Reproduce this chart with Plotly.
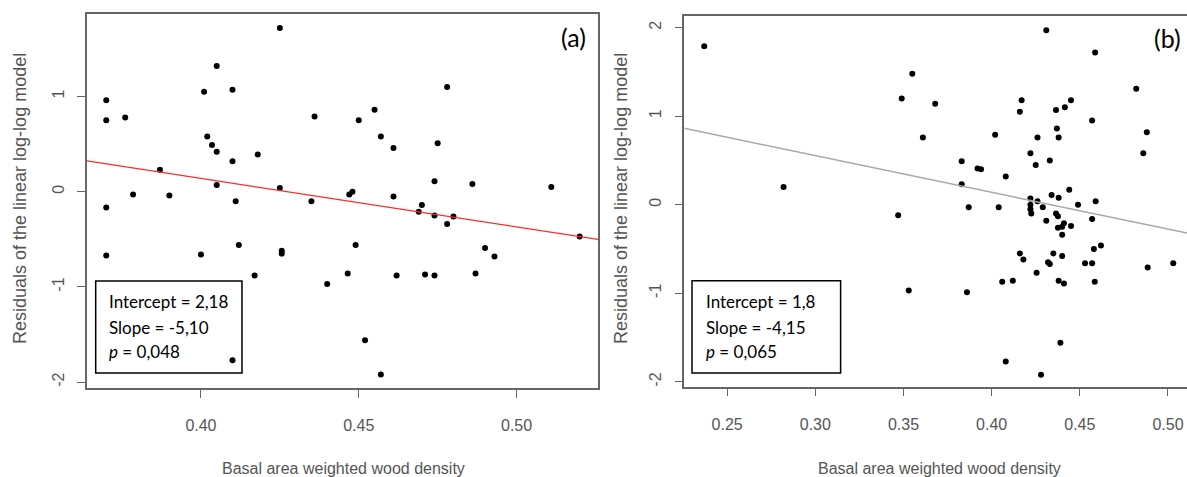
import plotly.graph_objects as go

W, H = 1187, 477

# ── panel (a) residuals ───────────────────────────────────────────────────────
xa = [0.370, 0.370, 0.376, 0.387, 0.3785, 0.390, 0.370, 0.401, 0.405, 0.410,
      0.402, 0.4035, 0.405, 0.410, 0.405, 0.411, 0.418, 0.425, 0.425, 0.436,
      0.435, 0.447, 0.448, 0.450, 0.455, 0.457, 0.461, 0.461, 0.469, 0.470,
      0.474, 0.478, 0.480, 0.475, 0.474, 0.478, 0.486, 0.511, 0.520, 0.370,
      0.400, 0.412, 0.417, 0.4256, 0.4256, 0.410, 0.440, 0.4465, 0.449, 0.452,
      0.457, 0.462, 0.471, 0.474, 0.487, 0.490, 0.493]
ya = [0.96, 0.75, 0.78, 0.23, -0.03, -0.04, -0.165, 1.05, 1.32, 1.07,
      0.58, 0.49, 0.42, 0.32, 0.07, -0.10, 0.39, 1.72, 0.04, 0.79,
      -0.10, -0.03, 0.00, 0.75, 0.86, 0.58, 0.46, -0.05, -0.21, -0.14,
      -0.25, -0.34, -0.26, 0.51, 0.11, 1.10, 0.08, 0.05, -0.47, -0.67,
      -0.66, -0.56, -0.88, -0.62, -0.65, -1.77, -0.97, -0.86, -0.56, -1.56,
      -1.92, -0.88, -0.87, -0.88, -0.86, -0.59, -0.68]
intercept_a, slope_a = 2.18, -5.10
stats_a = ["Intercept = 2,18", "Slope = -5,10", "<i>p</i> = 0,048"]

# ── panel (b) residuals ───────────────────────────────────────────────────────
xb = [0.237, 0.282, 0.347, 0.349, 0.355, 0.361, 0.368, 0.383, 0.383, 0.387,
      0.392, 0.394, 0.402, 0.404, 0.408, 0.416, 0.417, 0.422, 0.425, 0.426,
      0.422, 0.422, 0.422, 0.4225, 0.426, 0.429, 0.431, 0.431, 0.433, 0.434,
      0.4365, 0.437, 0.438, 0.438, 0.4365, 0.4376, 0.4415, 0.445, 0.444, 0.4376,
      0.440, 0.441, 0.445, 0.440, 0.449, 0.457, 0.4587, 0.459, 0.457, 0.482,
      0.488, 0.486, 0.416, 0.418, 0.435, 0.440, 0.432, 0.433, 0.453, 0.457,
      0.458, 0.462, 0.4255, 0.406, 0.412, 0.438, 0.441, 0.4585, 0.4885, 0.503,
      0.353, 0.386, 0.408, 0.428, 0.439]
yb = [1.79, 0.20, -0.12, 1.20, 1.48, 0.76, 1.14, 0.49, 0.23, -0.03,
      0.41, 0.40, 0.79, -0.03, 0.32, 1.05, 1.18, 0.58, 0.45, 0.76,
      0.07, 0.00, -0.05, -0.10, 0.04, -0.03, -0.18, 1.97, 0.50, 0.11,
      1.07, 0.86, 0.76, 0.08, -0.10, -0.13, 1.10, 1.18, 0.17, -0.26,
      -0.25, -0.21, -0.24, -0.34, 0.00, 0.95, 1.72, 0.04, -0.16, 1.31,
      0.82, 0.58, -0.55, -0.62, -0.55, -0.58, -0.65, -0.67, -0.66, -0.66,
      -0.50, -0.46, -0.77, -0.87, -0.86, -0.86, -0.89, -0.87, -0.71, -0.66,
      -0.97, -0.99, -1.77, -1.92, -1.56]
intercept_b, slope_b = 1.8, -4.15
stats_b = ["Intercept = 1,8", "Slope = -4,15", "<i>p</i> = 0,065"]

xrange_a = [0.3639, 0.5258]
yrange_a = [-2.062, 1.867]
xrange_b = [0.2257, 0.5108]
yrange_b = [-2.056, 2.132]

xtick_a = [0.40, 0.45, 0.50]
xtick_b = [0.25, 0.30, 0.35, 0.40, 0.45, 0.50]
ytick_a = [-2, -1, 0, 1]
ytick_b = [-2, -1, 0, 1, 2]

AX = "#666666"
TXT = "#555555"


def px(x):
    return x / W


def py(y):
    return 1 - y / H


fig = go.Figure()

fig.add_trace(go.Scatter(x=xa, y=ya, mode="markers", xaxis="x", yaxis="y",
                         marker=dict(color="black", size=6), showlegend=False))
fig.add_trace(go.Scatter(x=xrange_a,
                         y=[intercept_a + slope_a * v for v in xrange_a],
                         mode="lines", xaxis="x", yaxis="y",
                         line=dict(color="#ff2a2a", width=1.2), showlegend=False))
fig.add_trace(go.Scatter(x=xb, y=yb, mode="markers", xaxis="x2", yaxis="y2",
                         marker=dict(color="black", size=6), showlegend=False))
fig.add_trace(go.Scatter(x=xrange_b,
                         y=[intercept_b + slope_b * v for v in xrange_b],
                         mode="lines", xaxis="x2", yaxis="y2",
                         line=dict(color="#a8a8a8", width=1.5), showlegend=False))


def xaxis(dom, rng, ticks):
    return dict(domain=dom, range=rng, tickvals=ticks,
                ticktext=[f"{t:.2f}" for t in ticks],
                showgrid=False, zeroline=False, showline=True, mirror=True,
                linecolor=AX, linewidth=1.5, ticks="outside", ticklen=8,
                tickcolor=AX, tickwidth=1, ticklabelstandoff=14,
                tickfont=dict(family="Liberation Sans", size=16, color=TXT))


def yaxis(dom, rng, ticks, anchor, mirror):
    return dict(domain=dom, range=rng, tickvals=ticks, anchor=anchor,
                ticktext=[str(t) for t in ticks],
                showgrid=False, zeroline=False, showline=True, mirror=mirror,
                linecolor=AX, linewidth=1.5, ticks="outside", ticklen=8,
                tickcolor=AX, tickwidth=1, tickangle=-90, ticklabelstandoff=7,
                tickfont=dict(family="Liberation Sans", size=16, color=TXT))


fig.update_layout(
    width=W, height=H,
    margin=dict(l=0, r=0, t=0, b=0),
    paper_bgcolor="white", plot_bgcolor="white",
    xaxis=xaxis([px(87), px(598)], xrange_a, xtick_a) | dict(anchor="y"),
    yaxis=yaxis([py(388), py(14)], yrange_a, ytick_a, "x", True),
    xaxis2=xaxis([px(684.3), 1.0], xrange_b, xtick_b) | dict(anchor="y2"),
    yaxis2=yaxis([py(386.7), py(16)], yrange_b, ytick_b, "x2", False),
)

# stats boxes
for (l, r, t, b) in [(95.7, 242, 281, 373), (692, 840.6, 280.7, 373)]:
    fig.add_shape(type="rect", xref="paper", yref="paper",
                  x0=px(l), x1=px(r), y0=py(b), y1=py(t),
                  line=dict(color="black", width=1.5))

for lines, x0 in [(stats_a, 106.7), (stats_b, 703.5)]:
    for line, yc in zip(lines, [301.7, 327, 351.7]):
        fig.add_annotation(text=line, xref="paper", yref="paper",
                           x=px(x0), y=py(yc), xanchor="left", yanchor="middle",
                           showarrow=False,
                           font=dict(family="Lato", size=17, color="black"))

# panel letters
for lab, x0, y0 in [("(a)", 573, 37), ("(b)", 1167, 38)]:
    fig.add_annotation(text=lab, xref="paper", yref="paper", x=px(x0), y=py(y0),
                       xanchor="center", yanchor="middle", showarrow=False,
                       font=dict(family="Lato", size=25, color="black"))

# axis titles
for x0 in [343, 939]:
    fig.add_annotation(text="Basal area weighted wood density", xref="paper",
                       yref="paper", x=px(x0), y=py(468), xanchor="center",
                       yanchor="middle", showarrow=False,
                       font=dict(family="Liberation Sans", size=16, color=TXT))
for x0 in [20, 621]:
    fig.add_annotation(text="Residuals of the linear log-log model", xref="paper",
                       yref="paper", x=px(x0), y=py(199), xanchor="center",
                       yanchor="middle", textangle=-90, showarrow=False,
                       font=dict(family="Liberation Sans", size=18, color=TXT))

# page has a default body margin; drop it so the figure fills the window
fig.write_html("out.html", config={"displayModeBar": False},
               post_script="document.body.style.margin='0';")
